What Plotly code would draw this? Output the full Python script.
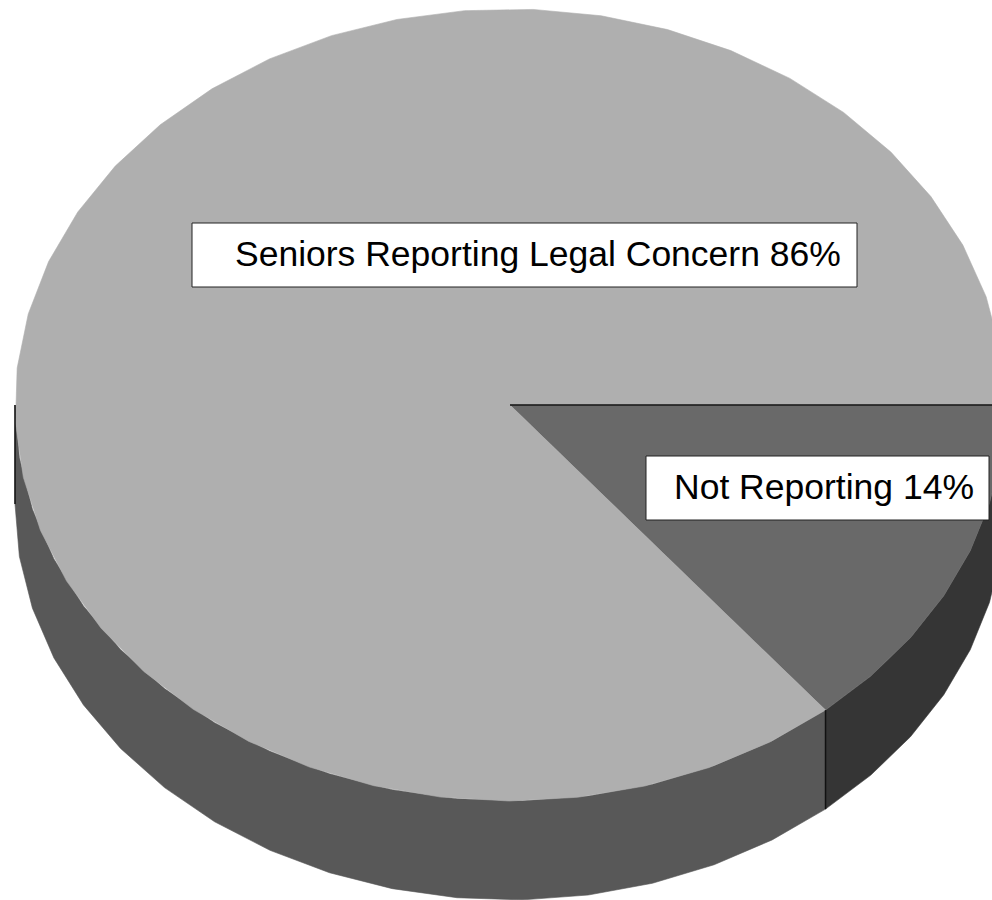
import numpy as np
import plotly.graph_objects as go

# Survey result shown as a tilted 3-D pie
labels = ["Not Reporting", "Seniors Reporting Legal Concern"]
values = [14, 86]
top_colors = ["#696969", "#afafaf"]
side_colors = ["#353535", "#585858"]

# Drawing geometry (pixel space)
CX, CY = 510.0, 405.0
RX, RY = 495.0, 396.0
DEPTH = 99.0
STEP = 8.0  # degrees per facet of the ellipse outline

W, H = 992, 900


def arc(a0, a1, dy=0.0):
    """Faceted elliptical arc from angle a0 to a1 (degrees, clockwise on screen)."""
    n = max(2, int(np.ceil(abs(a1 - a0) / STEP)) + 1)
    t = np.radians(np.linspace(a0, a1, n))
    return CX + RX * np.cos(t), CY + RY * np.sin(t) + dy


total = float(sum(values))
bounds = np.concatenate([[0.0], np.cumsum(values) / total * 360.0])

fig = go.Figure()

# Visible rim (front half, angles 0..180)
for i in range(len(values)):
    a0, a1 = bounds[i], bounds[i + 1]
    s0, s1 = max(a0, 0.0), min(a1, 180.0)
    if s1 <= s0:
        continue
    xt, yt = arc(s0, s1)
    xb, yb = arc(s1, s0, DEPTH)
    xs = np.concatenate([xt, xb, xt[:1]])
    ys = np.concatenate([yt, yb, yt[:1]])
    fig.add_trace(go.Scatter(x=xs, y=ys, mode="lines", fill="toself",
                             fillcolor=side_colors[i],
                             line=dict(color=side_colors[i], width=0.6),
                             hoverinfo="skip", showlegend=False))

# Top faces
for i in range(len(values)):
    a0, a1 = bounds[i], bounds[i + 1]
    xa, ya = arc(a0, a1)
    xs = np.concatenate([[CX], xa, [CX]])
    ys = np.concatenate([[CY], ya, [CY]])
    fig.add_trace(go.Scatter(x=xs, y=ys, mode="lines", fill="toself",
                             fillcolor=top_colors[i],
                             line=dict(color=top_colors[i], width=0.6),
                             hoverinfo="skip", showlegend=False))

# Dark edge strokes: left rim edge, slice seam on the rim, radial edge at 0 deg
seam = np.radians(bounds[1])
edge_lines = [
    ([CX - RX, CX - RX], [CY, CY + DEPTH]),
    ([CX + RX * np.cos(seam)] * 2,
     [CY + RY * np.sin(seam), CY + RY * np.sin(seam) + DEPTH]),
    ([CX, CX + RX], [CY, CY]),
]
for xs, ys in edge_lines:
    fig.add_trace(go.Scatter(x=xs, y=ys, mode="lines",
                             line=dict(color="#111111", width=1.5),
                             hoverinfo="skip", showlegend=False))

# Data labels in white boxes
label_texts = [f"{lab} {v}%" for lab, v in zip(labels, values)]
boxes = [(646, 456, 989, 520), (192, 223, 857, 287)]
text_centers = [(824, 487), (537.5, 254)]
for txt, (x0, y0, x1, y1), (tx, ty) in zip(label_texts, boxes, text_centers):
    fig.add_shape(type="rect", x0=x0, y0=y0, x1=x1, y1=y1,
                  xref="x", yref="y", fillcolor="white",
                  line=dict(color="#222222", width=1), layer="above")
    fig.add_annotation(x=tx, y=ty, xref="x", yref="y", text=txt,
                       showarrow=False, xanchor="center", yanchor="middle",
                       font=dict(family="Liberation Sans, Arial, sans-serif",
                                 size=35.5, color="black"))

fig.update_layout(
    width=W, height=H,
    margin=dict(l=0, r=0, t=0, b=0),
    paper_bgcolor="white", plot_bgcolor="white",
    xaxis=dict(range=[0, W], visible=False, fixedrange=True),
    yaxis=dict(range=[H, 0], visible=False, fixedrange=True),
    showlegend=False,
)

fig.write_html("out.html")
